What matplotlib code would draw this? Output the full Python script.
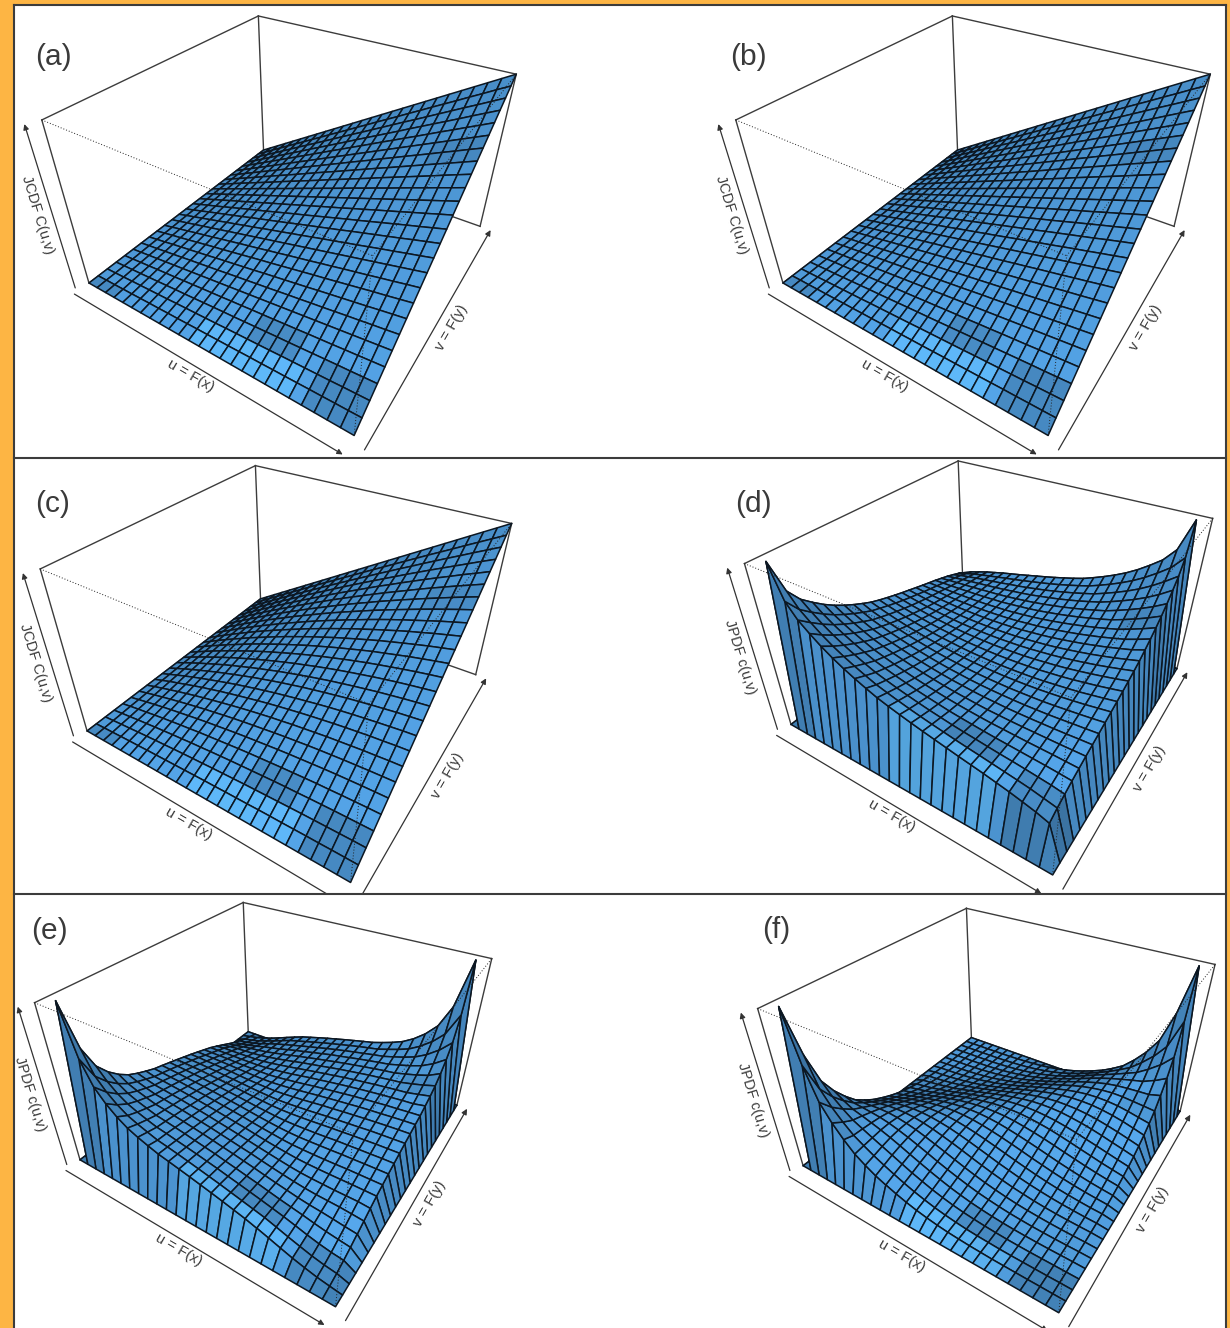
import numpy as np
import matplotlib
matplotlib.use('Agg')
import matplotlib.pyplot as plt
from matplotlib.colors import LightSource, to_rgba
from matplotlib.lines import Line2D
from matplotlib.patches import Rectangle
from mpl_toolkits.mplot3d import proj3d


# Surface heights, in thousandths of the box height.
# Surfaces are symmetric in u and v: row j holds the nodes i = j, j+1, ...
# --------------------------------------------------------------------------------------------------

jcdf_a = [
    [0]*26,
    [2,3,5,6,8,10,11,13,14,16,18,19,21,22,24,26,27,29,30,32,34,35,37,38,40],
    [6,10,13,16,19,22,26,29,32,35,38,42,45,48,51,54,58,61,64,67,70,74,77,80],
    [14,19,24,29,34,38,43,48,53,58,62,67,72,77,82,86,91,96,101,106,110,115,120],
    [26,32,38,45,51,58,64,70,77,83,90,96,102,109,115,122,128,134,141,147,154,160],
    [40,48,56,64,72,80,88,96,104,112,120,128,136,144,152,160,168,176,184,192,200],
    [58,67,77,86,96,106,115,125,134,144,154,163,173,182,192,202,211,221,230,240],
    [78,90,101,112,123,134,146,157,168,179,190,202,213,224,235,246,258,269,280],
    [102,115,128,141,154,166,179,192,205,218,230,243,256,269,282,294,307,320],
    [130,144,158,173,187,202,216,230,245,259,274,288,302,317,331,346,360],
    [160,176,192,208,224,240,256,272,288,304,320,336,352,368,384,400],
    [194,211,229,246,264,282,299,317,334,352,370,387,405,422,440],
    [230,250,269,288,307,326,346,365,384,403,422,442,461,480],
    [270,291,312,333,354,374,395,416,437,458,478,499,520],
    [314,336,358,381,403,426,448,470,493,515,538,560],
    [360,384,408,432,456,480,504,528,552,576,600],
    [410,435,461,486,512,538,563,589,614,640],
    [462,490,517,544,571,598,626,653,680],
    [518,547,576,605,634,662,691,720],
    [578,608,638,669,699,730,760],
    [640,672,704,736,768,800],
    [706,739,773,806,840],
    [774,810,845,880],
    [846,883,920],
    [922,960],
    [1000],
]
jcdf_b = jcdf_a

jcdf_c = [
    [0]*26,
    [3,6,9,12,14,17,19,21,23,25,27,29,30,32,33,34,36,37,37,38,39,39,40,40,40],
    [12,17,23,28,33,37,42,46,50,53,57,60,63,66,68,70,72,74,76,77,78,79,80,80],
    [26,33,41,48,55,61,68,73,79,84,89,93,97,101,105,108,110,113,115,117,118,119,120],
    [44,54,63,72,80,89,96,103,110,117,123,128,133,138,142,146,150,152,155,157,159,160],
    [66,77,88,99,109,118,127,136,144,151,158,165,171,176,181,186,190,193,196,198,200],
    [91,104,117,128,140,151,161,170,179,188,196,203,210,216,221,226,230,234,237,240],
    [119,133,147,160,173,185,196,207,216,226,234,242,250,256,262,268,272,277,280],
    [150,165,180,194,208,221,233,244,255,265,274,283,291,298,305,310,316,320],
    [183,199,215,230,245,258,271,283,295,306,316,325,333,341,348,355,360],
    [218,235,252,268,283,298,311,324,336,348,358,368,377,386,393,400],
    [254,273,290,307,323,338,353,366,379,391,403,413,423,432,440],
    [293,312,330,348,365,381,396,410,424,437,449,460,470,480],
    [333,353,372,390,408,425,441,456,470,484,497,509,520],
    [374,395,415,434,453,471,487,503,519,533,547,560],
    [418,439,460,480,500,518,536,553,570,585,600],
    [463,485,507,528,549,569,587,606,623,640],
    [510,534,557,579,600,621,642,661,680],
    [559,584,608,632,655,677,699,720],
    [611,637,663,688,713,737,760],
    [666,694,721,748,774,800],
    [724,753,783,811,840],
    [785,817,849,880],
    [852,886,920],
    [923,960],
    [1000],
]

# The density surfaces stand on a ring of zeros, which np.pad adds when they are built
jpdf_d = [
    [1000,811,730,677,629,588,553,522,494,468,448,430,413,397,382,367,352,338,324,308,292,273,253,227],
    [730,677,629,588,553,522,494,468,449,431,414,399,385,372,359,347,336,324,312,300,287,270,253],
    [629,588,553,522,494,468,449,431,415,400,386,374,362,352,343,333,324,316,307,297,287,273],
    [553,522,494,468,449,431,415,400,387,375,363,354,346,338,331,325,319,313,307,300,292],
    [494,468,449,431,415,400,387,375,364,355,347,340,334,330,326,322,319,316,312,308],
    [449,431,415,400,387,375,364,355,348,341,335,332,329,327,326,325,324,324,324],
    [415,400,387,375,364,355,348,341,336,333,330,329,329,330,331,333,336,338],
    [387,375,364,355,348,341,336,333,331,330,330,332,334,338,343,347,352],
    [364,355,348,341,336,333,331,330,331,333,335,340,346,352,359,367],
    [348,341,336,333,331,330,331,333,336,341,347,354,362,372,382],
    [336,333,331,330,331,333,336,341,348,355,363,374,385,397],
    [331,330,331,333,336,341,348,355,364,375,386,399,413],
    [331,333,336,341,348,355,364,375,387,400,414,430],
    [336,341,348,355,364,375,387,400,415,431,448],
    [348,355,364,375,387,400,415,431,449,468],
    [364,375,387,400,415,431,449,468,494],
    [387,400,415,431,449,468,494,522],
    [415,431,449,468,494,522,553],
    [449,468,494,522,553,588],
    [494,522,553,588,629],
    [553,588,629,677],
    [629,677,730],
    [730,811],
    [1000],
]

jpdf_e = [
    [1000,700,554,477,420,377,348,324,302,287,271,255,238,221,203,184,165,141,116,90,65,44,25,12],
    [555,480,424,382,355,332,310,297,283,268,252,236,220,202,184,166,148,124,99,76,54,37,25],
    [425,385,359,337,317,305,291,278,264,249,234,217,201,184,167,149,131,110,88,69,54,44],
    [360,340,321,310,298,286,272,259,246,230,215,199,184,167,150,135,120,103,88,76,65],
    [322,313,302,291,279,267,254,240,227,212,198,182,167,153,139,128,120,110,99,90],
    [303,294,283,272,261,248,235,222,210,195,181,168,156,146,139,135,131,124,116],
    [284,275,265,253,242,230,218,205,193,181,170,161,156,153,150,149,148,141],
    [266,256,246,235,225,213,201,191,182,174,170,168,167,167,167,166,165],
    [247,238,229,218,208,199,190,184,182,181,181,182,184,184,184,184],
    [230,221,212,204,197,192,190,191,193,195,198,199,201,202,203],
    [213,207,201,197,197,199,201,205,210,212,215,217,220,221],
    [202,200,201,204,208,213,218,222,227,230,234,236,238],
    [202,207,212,218,225,230,235,240,246,249,252,255],
    [213,221,229,235,242,248,254,259,264,268,271],
    [230,238,246,253,261,267,272,278,283,287],
    [247,256,265,272,279,286,291,297,302],
    [266,275,283,291,298,305,310,324],
    [284,294,302,310,317,332,348],
    [303,313,321,337,355,377],
    [322,340,359,382,420],
    [360,385,424,477],
    [425,480,554],
    [555,700],
    [1000],
]

jpdf_f = [
    [1000,696,495,389,308,240,195,156,126,99,76,57,42,30,21,15,10,7,4,3,2,1,1,0],
    [511,419,348,288,247,209,176,146,118,93,72,54,40,29,20,14,10,6,4,3,2,1,1],
    [363,315,284,253,224,195,165,136,111,87,68,51,38,28,20,14,9,6,4,3,2,1],
    [298,279,259,236,210,182,155,129,105,83,65,49,37,27,19,13,9,6,4,3,2],
    [272,260,242,221,197,172,146,122,100,80,62,48,36,26,19,13,9,6,4,3],
    [254,243,228,208,186,163,140,117,96,77,61,47,35,26,19,13,9,6,4],
    [239,229,215,197,178,157,135,114,94,76,60,47,35,26,19,14,10,7],
    [226,217,206,190,172,152,132,111,93,75,60,47,36,27,20,14,10],
    [216,209,198,184,167,149,130,111,93,76,61,48,37,28,20,15],
    [208,203,193,180,165,148,130,111,94,77,62,49,38,29,21],
    [203,199,191,179,165,149,132,114,96,80,65,51,40,30],
    [200,198,191,180,167,152,135,117,100,83,68,54,42],
    [200,199,193,184,172,157,140,122,105,87,72,57],
    [203,203,198,190,178,163,146,129,111,93,76],
    [208,209,206,197,186,172,155,136,118,99],
    [216,217,215,208,197,182,165,146,126],
    [226,229,228,221,210,195,176,156],
    [239,243,242,236,224,209,195],
    [254,260,259,253,247,240],
    [272,279,284,288,308],
    [298,315,348,389],
    [363,419,495],
    [511,696],
    [1000],
]

panel_letters = ['(a)', '(b)', '(c)', '(d)', '(e)', '(f)']
z_labels = ['JCDF C(u,v)', 'JCDF C(u,v)', 'JCDF C(u,v)', 'JPDF c(u,v)', 'JPDF c(u,v)', 'JPDF c(u,v)']


# Page layout in pixels of the reference
# --------------------------------------------------------------------------------------------------

fig_w, fig_h = 1230, 1328
centre_x = [296.2, 990.2, 293.0, 995.5, 279.7, 1002.9]
centre_y = [181.7, 181.7, 630.3, 624.5, 1062.2, 1068.1]
scale_px = [2500, 2500, 2484, 2467, 2409, 2410]
letter_xy = [(35, 57), (730, 57), (35, 504), (735, 504), (31, 931), (762, 930)]
row_top = [5, 458, 894]

orange = '#fdb544'
frame_col = '#3c3c3c'
text_col = '#3a3a3a'
surface_col = '#56a8ed'

# Lighter and darker facet patches, the same in every panel: u from, u to, v from, v to, factor
tone_patches = [
    (0.45, 0.82, 0.00, 0.08, 1.12),
    (0.60, 0.76, 0.10, 0.16, 0.86),
    (0.84, 1.00, 0.00, 0.12, 0.84),
    (0.00, 0.12, 0.00, 0.06, 0.88),
    (0.84, 1.00, 0.72, 0.80, 0.92),
]


# Helpers
# --------------------------------------------------------------------------------------------------

def full_grid(rows):
    n = len(rows)
    grid = np.zeros((n, n))
    for j, row in enumerate(rows):
        grid[j, j:] = row
        grid[j:, j] = row
    return grid


def facet_colours(nodes):
    n = len(nodes)
    colours = np.tile(np.array(to_rgba(surface_col)), (n, n, 1))
    mid = nodes + 0.5*(nodes[1] - nodes[0])
    for u0, u1, v0, v1, factor in tone_patches:
        mask = np.outer((mid >= v0) & (mid < v1), (mid >= u0) & (mid < u1))
        colours[mask, :3] = np.clip(colours[mask, :3]*factor, 0, 1)
    return colours


def to_screen(ax, x, y, z):
    sx, sy, _ = proj3d.proj_transform(x, y, z, ax.get_proj())
    return sx, sy


def draw_arrow(ax, start, end):
    ax.annotate('', xy=to_screen(ax, *end), xytext=to_screen(ax, *start), annotation_clip=False,
                arrowprops=dict(arrowstyle='-|>', color='#333333', lw=0.9, mutation_scale=8,
                                shrinkA=0, shrinkB=0))


def draw_box_edge(ax, p0, p1, **kwargs):
    ax.plot([p0[0], p1[0]], [p0[1], p1[1]], [p0[2], p1[2]], clip_on=False, **kwargs)


def draw_panel(index, grid):

    # Axes placed so that one projected unit spans scale_px pixels
    # ------------------------------------------------------------
    s = scale_px[index]
    rect = [(centre_x[index] - 0.095*s)/fig_w, 1.0 - (centre_y[index] + 0.095*s)/fig_h,
            0.185*s/fig_w, 0.185*s/fig_h]
    ax = fig.add_axes(rect, projection='3d', computed_zorder=False, zorder=2*(index//2) + 1)
    ax.set_facecolor('none')
    ax.set_axis_off()

    # Box behind the surface
    # ----------------------
    solid = dict(color=frame_col, lw=1.0, zorder=1)
    draw_box_edge(ax, (0, 0, 1), (0, 1, 1), **solid)
    draw_box_edge(ax, (0, 1, 1), (1, 1, 1), **solid)
    draw_box_edge(ax, (0, 1, 0), (0, 1, 1), **solid)
    draw_box_edge(ax, (0, 0, 0), (0, 0, 1), **solid)
    draw_box_edge(ax, (1, 1, 0), (1, 1, 1), **solid)
    draw_box_edge(ax, (0, 0, 0), (0, 1, 0), **solid)
    draw_box_edge(ax, (0, 1, 0), (1, 1, 0), **solid)

    # Surface
    # -------
    nodes = np.linspace(0, 1, grid.shape[0])
    u, v = np.meshgrid(nodes, nodes)
    surf = ax.plot_surface(u, v, grid, rstride=1, cstride=1, facecolors=facet_colours(nodes),
                           shade=True, lightsource=LightSource(147, 50), zorder=2)
    surf.set_edgecolor('#0c1722')
    surf.set_linewidth(1.1)
    surf.set_clip_on(False)

    # Dotted front edges of the box
    # -----------------------------
    dotted = dict(color='#222222', lw=0.7, ls=(0, (1, 2)), zorder=3)
    draw_box_edge(ax, (0, 0, 1), (1, 0, 1), **dotted)
    draw_box_edge(ax, (1, 0, 1), (1, 1, 1), **dotted)
    draw_box_edge(ax, (1, 0, 0), (1, 0, 1), **dotted)

    # View fitted to the box corners of the reference
    # -----------------------------------------------
    ax.set_xlim(0, 1)
    ax.set_ylim(0, 1)
    ax.set_zlim(0, 1)
    ax.set_box_aspect((1.62, 1.62, 1.0))
    ax.view_init(elev=35.0, azim=-57.1)
    ax.set_proj_type('persp', focal_length=0.229)

    # Axis arrows and labels
    # ----------------------
    draw_arrow(ax, (0, -0.06, 0), (1, -0.06, 0))
    draw_arrow(ax, (1.04, -0.02, 0), (1.04, 1, 0))
    draw_arrow(ax, (-0.02, -0.04, 0), (-0.02, -0.04, 1))

    label = dict(ha='center', va='center', fontsize=10.5, color=text_col, clip_on=False,
                 rotation_mode='anchor', transform=ax.transData)
    ax.text2D(*to_screen(ax, 0.53, -0.091, 0), 'u = F(x)', rotation=-30, **label)
    ax.text2D(*to_screen(ax, 1.085, 0.473, 0), 'v = F(y)', rotation=60, **label)
    ax.text2D(*to_screen(ax, -0.057, -0.066, 0.5), z_labels[index], rotation=-73, **label)

    fig.text(letter_xy[index][0]/fig_w, 1.0 - letter_xy[index][1]/fig_h, panel_letters[index],
             fontsize=21.5, color=text_col, ha='left', va='center', zorder=20)


# Create figure
# --------------------------------------------------------------------------------------------------

plt.rcParams['font.family'] = ['Liberation Sans', 'DejaVu Sans']

fig = plt.figure(figsize=(fig_w/100, fig_h/100), dpi=100, facecolor=orange)

# One white strip per row, so a row hides what the row above lets stick out
for k, top in enumerate(row_top):
    fig.add_artist(Rectangle((14/fig_w, 0), 1212/fig_w, 1.0 - top/fig_h, transform=fig.transFigure,
                             fc='white', ec='none', zorder=2*k))

grids = [full_grid(jcdf_a)/1000, full_grid(jcdf_b)/1000, full_grid(jcdf_c)/1000,
         np.pad(full_grid(jpdf_d), 1)/1000, np.pad(full_grid(jpdf_e), 1)/1000,
         np.pad(full_grid(jpdf_f), 1)/1000]

for index, grid in enumerate(grids):
    draw_panel(index, grid)

# Panel frame
# -----------
frame = dict(color=frame_col, lw=1.5, zorder=30, transform=fig.transFigure)
fig.add_artist(Line2D([14/fig_w, 14/fig_w], [0, 1.0 - 5/fig_h], **frame))
fig.add_artist(Line2D([1226/fig_w, 1226/fig_w], [0, 1.0 - 5/fig_h], **frame))
for top in row_top:
    fig.add_artist(Line2D([14/fig_w, 1226/fig_w], [1.0 - top/fig_h, 1.0 - top/fig_h], **frame))

# Save figure
# -----------
fig.savefig('out.png')
plt.close('all')
